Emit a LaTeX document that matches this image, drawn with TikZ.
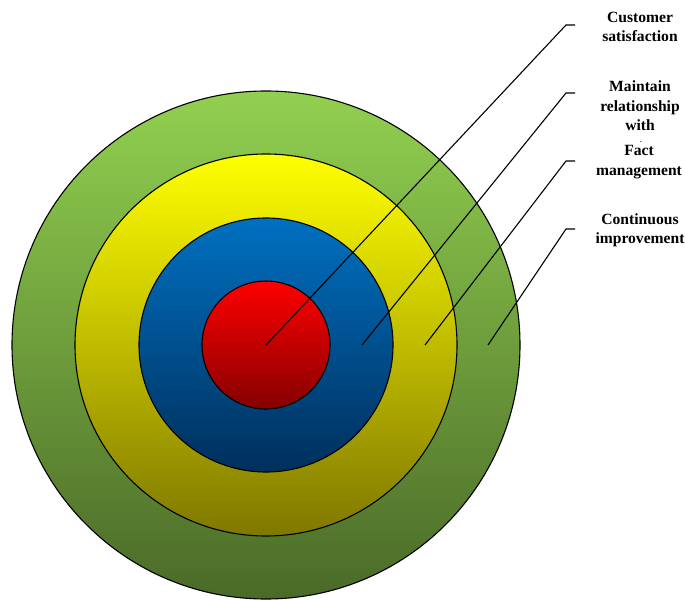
\documentclass[tikz,border=0pt]{standalone}
\usepackage{fontspec}
\setmainfont{Liberation Serif}
\usetikzlibrary{positioning}

\definecolor{greentop}{HTML}{92D050}
\definecolor{greenbot}{HTML}{4A6A28}
\definecolor{yellowtop}{HTML}{FFFF00}
\definecolor{yellowbot}{HTML}{7F7800}
\definecolor{bluetop}{HTML}{0070C0}
\definecolor{bluebot}{HTML}{002F5C}
\definecolor{redtop}{HTML}{FF0000}
\definecolor{redbot}{HTML}{850000}

\tikzset{
  ring/.style={circle,draw=black,line width=1.1pt,inner sep=0pt},
  lbl/.style={align=center,font=\fontsize{15.6}{19.5}\selectfont\bfseries,inner sep=0pt},
  leader/.style={draw=black,line width=1.1pt}
}

\begin{document}
\begin{tikzpicture}[x=1pt,y=-1pt]
   \useasboundingbox (0,0) rectangle (685,601);

   % target rings
   \node[ring,minimum size=508pt,top color=greentop,bottom color=greenbot] (outer) at (266,345) {};
   \node[ring,minimum size=382pt,top color=yellowtop,bottom color=yellowbot] (yellow) at (266,345) {};
   \node[ring,minimum size=254pt,top color=bluetop,bottom color=bluebot] (blue) at (266,345) {};
   \node[ring,minimum size=128pt,top color=redtop,bottom color=redbot] (red) at (266,345) {};

   % labels
   \node[lbl] (cs) at (640,27) {Customer\\satisfaction};
   \node[lbl] (mr) at (640,106) {Maintain\\relationship\\with};
   \node[inner sep=0pt,font=\scriptsize\bfseries] (dot) at (641,142) {.};
   \node[lbl] (fm) at (639,162) {Fact\\management};
   \node[lbl] (ci) at (640,230) {Continuous\\improvement};

   % leader ends
   \coordinate (p1) at (266,345);
   \coordinate (p2) at (362,345);
   \coordinate (p3) at (425,345);
   \coordinate (p4) at (488,345);
   \coordinate (k1) at (566,25);
   \coordinate (k2) at (566,93);
   \coordinate (k3) at (566,161);
   \coordinate (k4) at (566,229);

   \draw[leader] (p1) -- (k1) -- ++(9,0);
   \draw[leader] (p2) -- (k2) -- ++(9,0);
   \draw[leader] (p3) -- (k3) -- ++(9,0);
   \draw[leader] (p4) -- (k4) -- ++(9,0);
\end{tikzpicture}
\end{document}
